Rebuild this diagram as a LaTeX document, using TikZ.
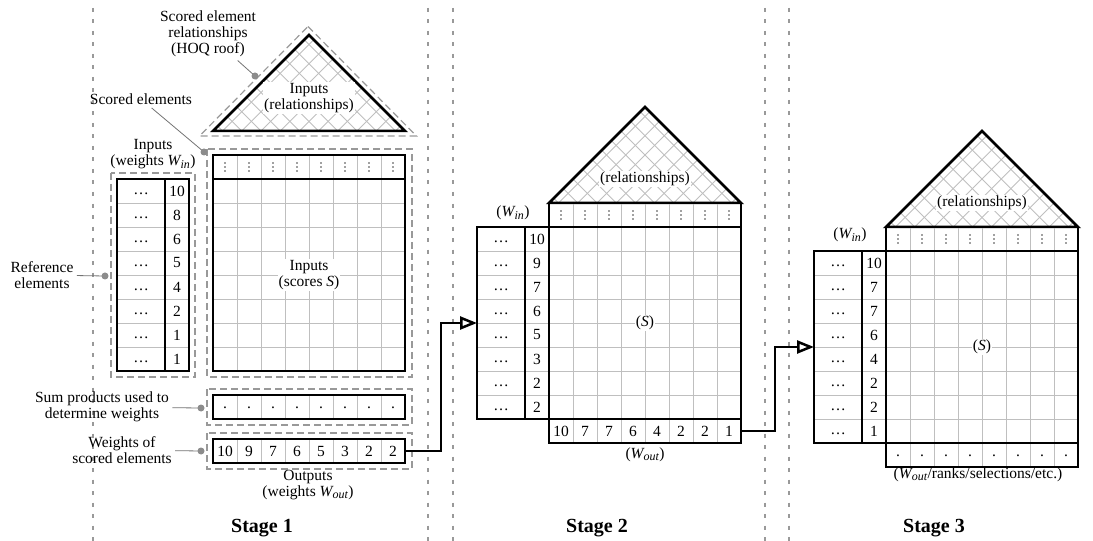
\documentclass[tikz,border=0pt]{standalone}
\usepackage{fontspec}
\setmainfont{Liberation Serif}
\usetikzlibrary{calc,positioning,arrows.meta}
\newcommand{\Win}{\textit{W\textsubscript{\large in}}}
\newcommand{\Wout}{\textit{W\textsubscript{\large out}}}

\begin{document}
\begin{tikzpicture}[x=1bp,y=-1bp,font=\fontsize{15.5bp}{16bp}\selectfont,
  thickbox/.style={draw,line width=2.5bp,inner sep=0,outer sep=0},
  gridline/.style={draw=black!25,line width=0.9bp},
  hatch/.style={draw=black!25,line width=0.9bp},
  outline/.style={draw=black!40,line width=1.2bp,dash pattern=on 7bp off 4bp},
  sepline/.style={draw=black!40,line width=2bp,dash pattern=on 4bp off 7.5bp},
  leader/.style={draw=black!55,line width=0.8bp},
  dotmark/.style={fill=black!45},
  celldot/.style={fill=black!75},
  conn/.style={draw,line width=2.5bp,-{Triangle[open,length=17bp,width=13bp,line width=2.5bp]}},
  inlabel/.style={fill=white,inner sep=1bp,align=center},
  stagetitle/.style={font=\fontsize{20bp}{24bp}\selectfont\bfseries}]
\useasboundingbox (0,0) rectangle (1093,541);

% stage separators
\foreach \x in {93,428,453,765,789}
  \draw[sepline] (\x,8) -- (\x,541);

% roof, header row, score grid and weight column of each stage
\foreach \n/\gx/\gy/\rg/\lg/\wl in {1/213/155/24/24/{10,8,6,5,4,2,1,1},
    2/549/203/0/0/{10,9,7,6,5,3,2,2},3/886/227/0/0/{10,7,7,6,4,2,2,1}} {
  \begin{scope}
    \clip (\gx,\gy-\rg) -- (\gx+96,\gy-\rg-96) -- (\gx+192,\gy-\rg) -- cycle;
    \foreach \k in {9.6,28.8,...,183}
      \draw[hatch] (\gx+\k,\gy-\rg) -- ++(100,-100) (\gx+\k,\gy-\rg) -- ++(-100,-100);
  \end{scope}
  \draw[thickbox,line join=miter] (\gx,\gy-\rg) -- (\gx+96,\gy-\rg-96) -- (\gx+192,\gy-\rg) -- cycle;
  \foreach \i in {1,...,7} {
    \draw[gridline] (\gx+24*\i,\gy) -- (\gx+24*\i,\gy+216);
    \draw[gridline] (\gx,\gy+24+24*\i) -- (\gx+192,\gy+24+24*\i);
    \draw[gridline] (\gx-\lg-72,\gy+24+24*\i) -- (\gx-\lg,\gy+24+24*\i);
  }
  \foreach \i in {0,...,7} \foreach \d in {-4,0,4}
    \fill[celldot] (\gx+12+24*\i,\gy+12+\d) circle (0.8bp);
  \draw[thickbox] (\gx,\gy) rectangle (\gx+192,\gy+24);
  \node[thickbox,minimum width=192bp,minimum height=192bp,anchor=north west] (grid\n) at (\gx,\gy+24) {};
  \node[thickbox,minimum width=72bp,minimum height=192bp,anchor=north west] (ref\n) at (\gx-\lg-72,\gy+24) {};
  \draw[thickbox] (\gx-\lg-24,\gy+24) -- (\gx-\lg-24,\gy+216);
  \foreach \v [count=\j] in \wl {
    \node (el\n-\j) at (\gx-\lg-48,\gy+15+24*\j) {…};
    \node (win\n-\j) at (\gx-\lg-12,\gy+12+24*\j) {\v};
  }
}

% output rows
\foreach \i in {1,...,7} {
  \draw[gridline] (213+24*\i,395) -- (213+24*\i,419);
  \draw[gridline] (213+24*\i,439) -- (213+24*\i,463);
  \draw[gridline] (549+24*\i,419) -- (549+24*\i,443);
  \draw[gridline] (886+24*\i,443) -- (886+24*\i,467);
}
\node[thickbox,minimum width=192bp,minimum height=24bp,anchor=north west] (sum1) at (213,395) {};
\node[thickbox,minimum width=192bp,minimum height=24bp,anchor=north west] (out1) at (213,439) {};
\node[thickbox,minimum width=192bp,minimum height=24bp,anchor=north west] (out2) at (549,419) {};
\node[thickbox,minimum width=192bp,minimum height=24bp,anchor=north west] (out3) at (886,443) {};
\foreach \v [count=\i from 0] in {10,9,7,6,5,3,2,2} {
  \node (sp1-\i) at (225+24*\i,408) {.};
  \node (wo1-\i) at (225+24*\i,451) {\v};
}
\foreach \v [count=\i from 0] in {10,7,7,6,4,2,2,1} {
  \node (wo2-\i) at (561+24*\i,431) {\v};
  \node (wo3-\i) at (898+24*\i,456) {.};
}

% labels inside the blocks
\node[inlabel] (roof1) at (309,98) {Inputs\\(relationships)};
\node[inlabel] (roof2) at (645,179) {(relationships)};
\node[inlabel] (roof3) at (982,203) {(relationships)};
\node[inlabel] (s1) at (309,275) {Inputs\\(scores \textit{S})};
\node[inlabel] (s2) at (645,323) {(\textit{S})};
\node[inlabel] (s3) at (982,347) {(\textit{S})};

% stage 1 outlines
\draw[outline] (308,26.5) -- (416.5,136) -- (199.5,136) -- cycle;
\draw[outline] (207,149) rectangle (412,377);
\draw[outline] (111,173) rectangle (195,377);
\draw[outline] (207,389) rectangle (412,425);
\draw[outline] (207,433) rectangle (412,469);

% labels round the blocks
\node[align=center] (winlbl1) at (153,154) {Inputs\\(weights \Win)};
\node[align=center] (woutlbl1) at (308,485) {Outputs\\(weights \Wout)};
\node (winlbl2) at (513,213) {(\Win)};
\node (winlbl3) at (850,235) {(\Win)};
\node (woutlbl2) at (645,455) {(\Wout)};
\node (woutlbl3) at (978,475) {(\Wout/ranks/selections/etc.)};

% callouts
\coordinate (dotroof) at (255,76);
\coordinate (dotscored) at (204,152);
\coordinate (dotref) at (105,276);
\coordinate (dotsum) at (201,408);
\coordinate (dotwt) at (201,451);
\node[align=center] (lblroof) at (208,34) {Scored element\\relationships\\(HOQ roof)};
\node (lblscored) at (141,99) {Scored elements};
\node[align=center] (lblref) at (42,275) {Reference\\elements};
\node[align=center] (lblsum) at (102,407) {Sum products used to\\determine weights};
\node[align=center] (lblwt) at (122,450) {Weights of\\scored elements};
\foreach \a/\b in {lblroof/dotroof,lblscored/dotscored,lblref/dotref,lblsum/dotsum,lblwt/dotwt} {
  \draw[leader] (\a) -- (\b);
  \fill[dotmark] (\b) circle (3.5bp);
}

% hand-over between stages
\draw[conn] (out1.east) -- ++(36,0) |- (ref2.west);
\draw[conn] (out2.east) -- ++(34,0) |- (ref3.west);

\node[stagetitle] (st1) at (262,528) {Stage 1};
\node[stagetitle] (st2) at (597,528) {Stage 2};
\node[stagetitle] (st3) at (934,528) {Stage 3};
\end{tikzpicture}
\end{document}
